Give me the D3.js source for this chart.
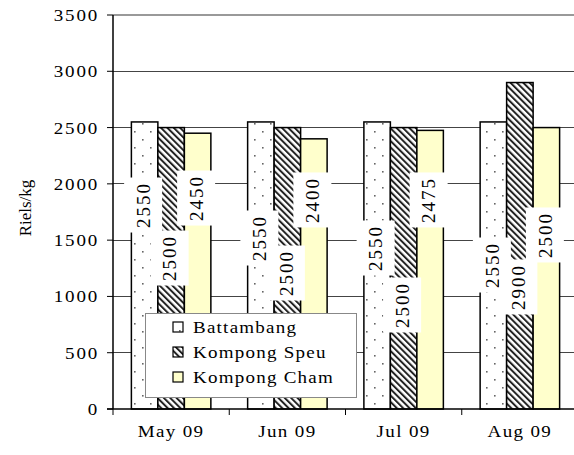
<!DOCTYPE html>
<html><head><meta charset="utf-8">
<script src="https://cdn.jsdelivr.net/npm/d3@7"></script>
<style>
html,body{margin:0;padding:0;background:#fff;}
svg{display:block;}
text{font-family:'Liberation Serif','Times New Roman',Times,serif;}
</style></head>
<body>
<svg id="c" width="574" height="455"></svg>
<script>
const months = ["May 09", "Jun 09", "Jul 09", "Aug 09"];
const seriesNames = ["Battambang", "Kompong Speu", "Kompong Cham"];
const battambang = [2550, 2550, 2550, 2550];
const kompongSpeu = [2500, 2500, 2500, 2900];
const kompongCham = [2450, 2400, 2475, 2500];
const yTicks = [0, 500, 1000, 1500, 2000, 2500, 3000, 3500];
// where each data label sits, in Riels/kg
const labelAnchorB = [1812, 1519, 1430, 1279];
const labelAnchorS = [1341, 1208, 924, 1084];
const labelAnchorC = [1874, 1857, 1857, 1546];

const values = [battambang, kompongSpeu, kompongCham];
const anchors = [labelAnchorB, labelAnchorS, labelAnchorC];

const svg = d3.select("#c");
const FF = "'Liberation Serif','Times New Roman',Times,serif";
const L = 113, R = 578, T = 15, B = 409;
const SX = 1.12;

const defs = svg.append("defs");
const dots = defs.append("pattern").attr("id","dots").attr("patternUnits","userSpaceOnUse")
  .attr("width",16).attr("height",16);
dots.append("rect").attr("width",16).attr("height",16).attr("fill","#fff");
dots.append("rect").attr("x",6).attr("y",3).attr("width",1.6).attr("height",1.6).attr("fill","#666");
dots.append("rect").attr("x",14).attr("y",11).attr("width",1.6).attr("height",1.6).attr("fill","#666");
const hatch = defs.append("pattern").attr("id","hatch").attr("patternUnits","userSpaceOnUse")
  .attr("width",4.5).attr("height",4.5).attr("patternTransform","rotate(-45)");
hatch.append("rect").attr("width",4.5).attr("height",4.5).attr("fill","#fff");
hatch.append("rect").attr("x",0).attr("y",0).attr("width",2).attr("height",4.5).attr("fill","#222");
const fills = ["url(#dots)", "url(#hatch)", "#FFFFCC"];

const x = d3.scaleBand().domain(months).range([L, R]).paddingInner(0).paddingOuter(0);
const xs = d3.scaleBand().domain(seriesNames).range([0, x.bandwidth()]).paddingInner(0).paddingOuter(0.694);
const y = d3.scaleLinear().domain([0, 3500]).range([B, T]);

// gridlines
svg.append("g").selectAll("line").data(yTicks.filter(t => t > 0 && t < 3500)).join("line")
  .attr("x1", L).attr("x2", R).attr("y1", d => y(d)).attr("y2", d => y(d))
  .attr("stroke", "#444").attr("stroke-width", 1).attr("shape-rendering","crispEdges");
svg.append("line").attr("x1", L).attr("x2", R).attr("y1", y(3500)).attr("y2", y(3500))
  .attr("stroke", "#999").attr("stroke-width", 2);

// bars
const rows = [];
months.forEach((m, i) => seriesNames.forEach((s, j) => rows.push({m, s, j, v: values[j][i], a: anchors[j][i]})));
svg.append("g").selectAll("rect").data(rows).join("rect")
  .attr("x", d => x(d.m) + xs(d.s)).attr("y", d => y(d.v))
  .attr("width", xs.bandwidth()).attr("height", d => y(0) - y(d.v))
  .attr("fill", d => fills[d.j]).attr("stroke", "#000").attr("stroke-width", 1.5);

// axes
svg.append("line").attr("x1", L).attr("x2", L).attr("y1", T).attr("y2", B).attr("stroke","#000").attr("stroke-width",1.5);
svg.append("line").attr("x1", L - 6).attr("x2", R).attr("y1", B).attr("y2", B).attr("stroke","#000").attr("stroke-width",1.5);
svg.append("g").selectAll("line").data(yTicks).join("line")
  .attr("x1", L - 6).attr("x2", L).attr("y1", d => y(d)).attr("y2", d => y(d)).attr("stroke","#000");
svg.append("g").selectAll("line").data(months).join("line")
  .attr("x1", d => x(d)).attr("x2", d => x(d)).attr("y1", B).attr("y2", B + 6).attr("stroke","#000");

svg.append("g").selectAll("text").data(yTicks).join("text")
  .attr("font-family", FF)
  .attr("transform", d => `translate(${L - 14},${y(d)}) scale(${SX},1)`)
  .attr("text-anchor","end").attr("dy","0.35em").attr("font-size",17).attr("letter-spacing",1.6).attr("fill","#000")
  .text(d => d);
svg.append("g").selectAll("text").data(months).join("text")
  .attr("font-family", FF)
  .attr("transform", d => `translate(${x(d) + x.bandwidth()/2},437) scale(${SX},1)`)
  .attr("text-anchor","middle").attr("font-size",17).attr("letter-spacing",1.2).attr("fill","#000").text(d => d);
svg.append("text").attr("font-family", FF).attr("transform","translate(25,208) rotate(-90)")
  .attr("text-anchor","middle").attr("dy","0.35em").attr("font-size",17).text("Riels/kg");

// data labels
const lab = svg.append("g").selectAll("g").data(rows).join("g")
  .attr("transform", d => `translate(${x(d.m) + xs(d.s) + xs.bandwidth()/2 - 1.5},${y(d.a)})`);
lab.append("rect").attr("x", -19).attr("y", -27.5).attr("width", 38).attr("height", 55).attr("fill","#fff");
lab.append("text").attr("font-family", FF).attr("transform","rotate(-90)").attr("text-anchor","middle").attr("dy","0.36em")
  .attr("font-size",19).attr("letter-spacing",2).text(d => d.v);

// legend
const lg = svg.append("g");
lg.append("rect").attr("x",145.5).attr("y",313.5).attr("width",211).attr("height",84)
  .attr("fill","#fff").attr("stroke","#888").attr("stroke-width",1);
const li = lg.selectAll("g").data(seriesNames).join("g")
  .attr("transform", (d, i) => `translate(173,${327 + i * 25})`);
li.append("rect").attr("x",0).attr("y",-5).attr("width",10).attr("height",10)
  .attr("fill", (d, i) => fills[i]).attr("stroke","#000").attr("stroke-width",1.2);
li.append("text").attr("font-family", FF).attr("transform",`translate(20,0) scale(${SX},1)`).attr("dy","0.35em")
  .attr("font-size",17).attr("letter-spacing",1.1).text(d => d);
</script>
</body></html>
